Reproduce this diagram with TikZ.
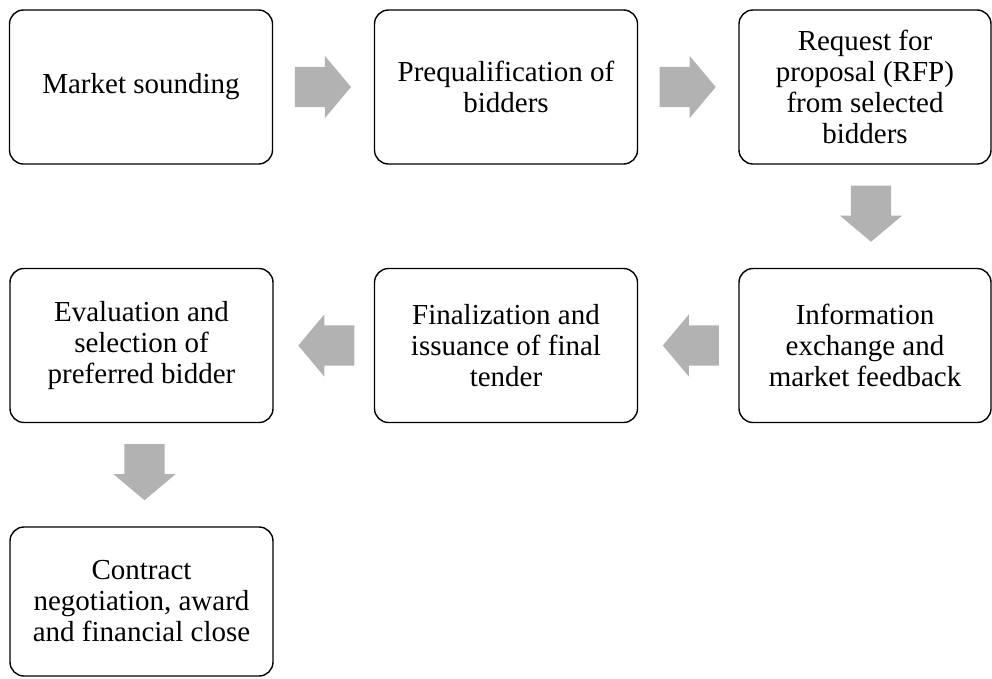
\documentclass[tikz,border=0pt]{standalone}
\usepackage{fontspec}
\setmainfont{Liberation Serif}
\usetikzlibrary{shapes.arrows,calc}
\begin{document}
\begin{tikzpicture}[x=1pt,y=-1pt,
    stage/.style={draw,line width=1.4pt,rounded corners=14pt,minimum width=263pt,minimum height=154pt,
      align=center,inner sep=0pt,font=\fontsize{29}{31}\selectfont},
    flow/.style={single arrow,fill=black!30,draw=none,minimum height=56pt,
      single arrow head extend=11pt,single arrow tip angle=100,inner xsep=0pt,inner ysep=20pt},
    flowleft/.style={flow,shape border rotate=180,xshift=11pt},
    flowdown/.style={flow,shape border rotate=270,inner xsep=20pt,inner ysep=0pt,yshift=11pt}]
        \useasboundingbox (0,0) rectangle (992,678);
        \node[stage](ms) at (141,87) {Market sounding};
        \node[stage](pq) at (506,87) {Prequalification of\\bidders};
        \node[stage,minimum width=252pt](rfp) at (865,87) {Request for\\proposal (RFP)\\from selected\\bidders};
        \node[stage,minimum width=252pt](inf) at (865,345.5) {Information\\exchange and\\market feedback};
        \node[stage](fin) at (506,345.5) {Finalization and\\issuance of final\\tender};
        \node[stage](ev) at (141.5,345.5) {Evaluation and\\selection of\\preferred bidder};
        \node[stage,minimum height=149pt](cn) at (141.5,601.5) {Contract\\negotiation, award\\and financial close};
        \node[flow,xshift=-9pt](f1) at ($(ms.east)!0.5!(pq.west)$) {};
        \node[flow,xshift=-9pt](f2) at ($(pq.east)!0.5!(rfp.west)$) {};
        \node[flowdown,xshift=6pt](f3) at ($(rfp.south)!0.5!(inf.north)$) {};
        \node[flowleft](f4) at ($(inf.west)!0.5!(fin.east)$) {};
        \node[flowleft](f5) at ($(fin.west)!0.5!(ev.east)$) {};
        \node[flowdown,xshift=3pt](f6) at ($(ev.south)!0.5!(cn.north)$) {};
        \end{tikzpicture}
\end{document}
